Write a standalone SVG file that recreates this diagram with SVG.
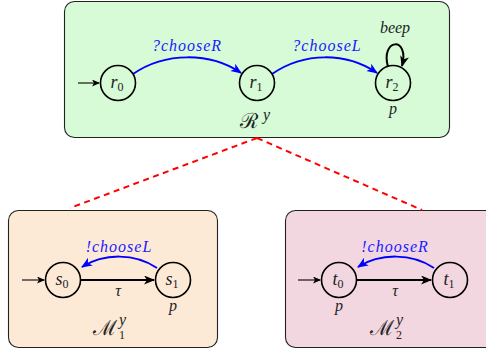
<svg xmlns="http://www.w3.org/2000/svg" width="486" height="352" viewBox="0 0 486 352">
<defs>
<style>
.box{stroke:#222;stroke-width:1.1}
.st{fill:none;stroke:#000;stroke-width:1.6}
.m{font-family:'Liberation Serif','Times New Roman',serif;font-style:italic;font-size:16px;fill:#222}
.n{font-size:18px}
.sub{font-style:normal;font-size:12px}
.bl{fill:#1a1aff}
.cal{font-family:'DejaVu Serif','Liberation Serif',serif;font-style:normal;font-size:21px;fill:#222}
.eb{fill:none;stroke:#0000ff;stroke-width:2}
.ek{fill:none;stroke:#000;stroke-width:2}
.init{fill:none;stroke:#000;stroke-width:1.1}
.dash{fill:none;stroke:#ff0000;stroke-width:2;stroke-dasharray:6 4.5}
</style>
<marker id="ab" markerUnits="userSpaceOnUse" markerWidth="12" markerHeight="10" refX="10" refY="4.5" orient="auto"><path d="M0,0 L11,4.5 L0,9 L3,4.5 z" fill="#0000ff"/></marker>
<marker id="ak" markerUnits="userSpaceOnUse" markerWidth="12" markerHeight="10" refX="10" refY="4.5" orient="auto"><path d="M0,0 L11,4.5 L0,9 L3,4.5 z" fill="#000"/></marker>
<marker id="ai" markerUnits="userSpaceOnUse" markerWidth="10" markerHeight="8" refX="7" refY="3.5" orient="auto"><path d="M0,0 L8,3.5 L0,7 L2,3.5 z" fill="#000"/></marker>
</defs>

<g id="boxR"><rect class="box" x="64.5" y="1.5" width="385" height="136" rx="10" fill="#d6fbd6"/></g>
<g id="boxM1"><rect class="box" x="8.5" y="210.5" width="209" height="137" rx="10" fill="#fdead6"/></g>
<g id="boxM2"><rect class="box" x="285.5" y="210.5" width="220" height="137" rx="10" fill="#f2d7e1"/></g>

<g id="connectors">
<line class="dash" x1="257" y1="138" x2="70" y2="208"/>
<line class="dash" x1="257" y1="138" x2="422" y2="210"/>
<line class="init" x1="78" y1="83" x2="99" y2="83" marker-end="url(#ai)"/>
<path class="eb" d="M133,74 C165,52 210,52 241,73" marker-end="url(#ab)"/>
<path class="eb" d="M272,74 C304,52 346,52 377,73" marker-end="url(#ab)"/>
<path class="ek" d="M388,67 C380,38 410,36 402,66" marker-end="url(#ak)"/>
<line class="init" x1="22" y1="280" x2="44" y2="280" marker-end="url(#ai)"/>
<line class="ek" x1="81" y1="280" x2="154" y2="280" marker-end="url(#ak)"/>
<path class="eb" d="M157,268 C135,253 104,253 82,267" marker-end="url(#ab)"/>
<line class="init" x1="298" y1="280" x2="320" y2="280" marker-end="url(#ai)"/>
<line class="ek" x1="357" y1="280" x2="431" y2="280" marker-end="url(#ak)"/>
<path class="eb" d="M434,268 C412,253 380,253 358,267" marker-end="url(#ab)"/>
</g>

<g id="r0"><circle class="st" cx="118" cy="83" r="17.5"/><text class="m n" x="117" y="88" text-anchor="middle">r<tspan class="sub" dy="3">0</tspan></text></g>
<g id="r1"><circle class="st" cx="257" cy="83" r="17.5"/><text class="m n" x="256" y="88" text-anchor="middle">r<tspan class="sub" dy="3">1</tspan></text></g>
<g id="r2"><circle class="st" cx="393" cy="83" r="17.5"/><text class="m n" x="392" y="88" text-anchor="middle">r<tspan class="sub" dy="3">2</tspan></text></g>
<g id="s0"><circle class="st" cx="63" cy="280" r="17.5"/><text class="m n" x="62" y="285" text-anchor="middle">s<tspan class="sub" dy="3">0</tspan></text></g>
<g id="s1"><circle class="st" cx="173" cy="280" r="17.5"/><text class="m n" x="172" y="285" text-anchor="middle">s<tspan class="sub" dy="3">1</tspan></text></g>
<g id="t0"><circle class="st" cx="339" cy="280" r="17.5"/><text class="m n" x="338" y="285" text-anchor="middle">t<tspan class="sub" dy="3">0</tspan></text></g>
<g id="t1"><circle class="st" cx="450" cy="280" r="17.5"/><text class="m n" x="449" y="285" text-anchor="middle">t<tspan class="sub" dy="3">1</tspan></text></g>

<g id="labels">
<text class="m bl" x="187" y="51" text-anchor="middle" letter-spacing="1">?chooseR</text>
<text class="m bl" x="327" y="51" text-anchor="middle" letter-spacing="1">?chooseL</text>
<text class="m" x="395" y="33" text-anchor="middle" font-size="15">beep</text>
<text class="m" x="393" y="114" text-anchor="middle" font-size="17">p</text>
<text class="cal" x="240" y="128">ℛ</text>
<text class="m" x="263" y="120" font-size="11">y</text>
<text class="m bl" x="119" y="252" text-anchor="middle" letter-spacing="1">!chooseL</text>
<text class="m" x="118" y="296" text-anchor="middle" font-size="19">τ</text>
<text class="m" x="173" y="311" text-anchor="middle" font-size="17">p</text>
<text class="cal" x="93" y="335">ℳ</text>
<text class="m" x="119" y="325" font-size="10">y</text>
<text class="m sub" x="119" y="339" font-size="10">1</text>
<text class="m bl" x="395" y="252" text-anchor="middle" letter-spacing="1">!chooseR</text>
<text class="m" x="395" y="296" text-anchor="middle" font-size="19">τ</text>
<text class="m" x="339" y="311" text-anchor="middle" font-size="17">p</text>
<text class="cal" x="370" y="335">ℳ</text>
<text class="m" x="396" y="325" font-size="10">y</text>
<text class="m sub" x="396" y="339" font-size="10">2</text>
</g>
</svg>
